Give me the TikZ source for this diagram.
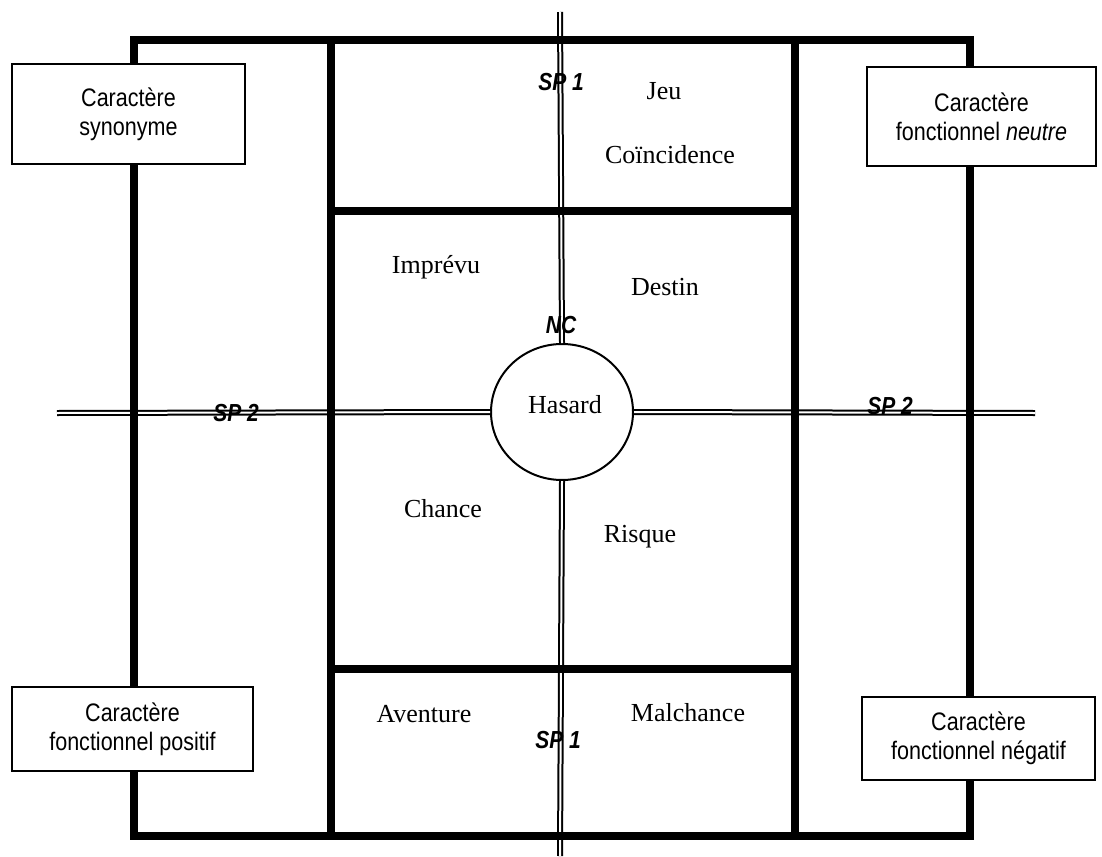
\documentclass[tikz,border=0pt]{standalone}
\usepackage{fontspec}
\setmainfont{Liberation Serif}
\setsansfont{Liberation Sans}
\newfontfamily\boxfont[FakeStretch=0.85]{Liberation Sans}
\usetikzlibrary{shapes.geometric}
\tikzset{
  thickline/.style={line width=5.5pt, line cap=rect},
  dbl/.style={double, double distance=1.5pt, line width=1.5pt},
  word/.style={font=\fontsize{19.5}{23}\selectfont, inner sep=0pt},
  sp/.style={font=\boxfont\bfseries\itshape\fontsize{18.5}{20}\selectfont, inner sep=0pt},
  cbox/.style={draw, line width=1.1pt, fill=white, align=center, inner sep=0pt,
    font=\boxfont\fontsize{19}{21.5}\selectfont},
  hcirc/.style={ellipse, draw, line width=1.5pt, fill=white, minimum width=106.5pt, minimum height=102pt, inner sep=0pt},
}
\begin{document}
\begin{tikzpicture}[x=0.75pt, y=-0.75pt]
\useasboundingbox (0,0) rectangle (1102,856);
% double separation lines
\coordinate (ntop) at (560,12);
\coordinate (nbot) at (560,856);
\coordinate (wl) at (57,413);
\coordinate (er) at (1035,413);
\node[hcirc] (hasard) at (562,412) {};
\draw[dbl] (ntop) -- (hasard.north);
\draw[dbl] (hasard.south) -- (nbot);
\draw[dbl] (wl) -- (hasard.west);
\draw[dbl] (hasard.east) -- (er);
% thick frame
\draw[thickline] (134,40) rectangle (970,836);
\draw[thickline] (331,40) -- (331,836);
\draw[thickline] (795,40) -- (795,836);
\draw[thickline] (331,211) -- (795,211);
\draw[thickline] (331,669) -- (795,669);
\node[word] (hasardt) at (565,405) {Hasard};
% words
\node[word] (jeu) at (664,91) {Jeu};
\node[word] (coinc) at (670,155) {Coïncidence};
\node[word] (imprevu) at (436,267) {Imprévu};
\node[word] (destin) at (665,287) {Destin};
\node[word] (chance) at (443,509) {Chance};
\node[word] (risque) at (640,537) {Risque};
\node[word] (aventure) at (424,714) {Aventure};
\node[word] (malchance) at (688,713) {Malchance};
% SP labels
\node[sp] (sp1t) at (561,82) {SP 1};
\node[sp] (nc) at (561,325) {NC};
\node[sp] (sp2l) at (236,413) {SP 2};
\node[sp] (sp2r) at (890,406) {SP 2};
\node[sp] (sp1b) at (558,740) {SP 1};
% corner boxes
\node[cbox, minimum width=174.75pt, minimum height=75pt] (tl) at (128.5,114) {Caractère\\synonyme};
\node[cbox, minimum width=171.75pt, minimum height=74.25pt] (tr) at (981.5,116.5) {Caractère\\fonctionnel \textit{neutre}};
\node[cbox, minimum width=180.75pt, minimum height=63pt] (bl) at (132.5,729) {Caractère\\fonctionnel positif};
\node[cbox, minimum width=174.75pt, minimum height=62.25pt] (br) at (978.5,738.5) {Caractère\\fonctionnel négatif};
\end{tikzpicture}
\end{document}
